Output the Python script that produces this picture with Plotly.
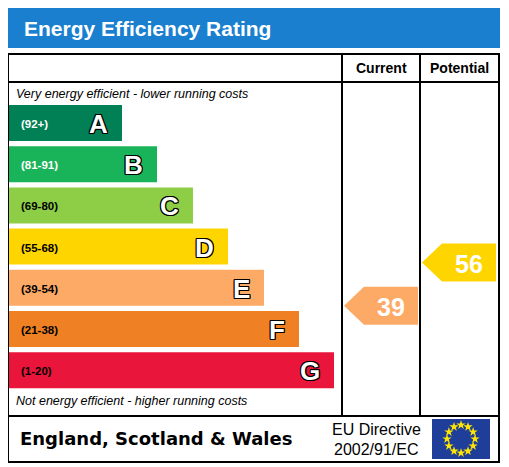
import plotly.graph_objects as go
import numpy as np

bands = ["A", "B", "C", "D", "E", "F", "G"]
ranges = ["(92+)", "(81-91)", "(69-80)", "(55-68)", "(39-54)", "(21-38)", "(1-20)"]
colors = ["#008054", "#19b459", "#8dce46", "#ffd500", "#fcaa65", "#ef8023", "#e9153b"]
bar_ends = [122, 157, 193, 228, 264, 299, 334]
range_text_colors = ["white", "white", "black", "black", "black", "black", "black"]
current_value = 39
current_band = "E"
potential_value = 56
potential_band = "D"

W, H = 509, 467
OFF = 8  # page body margin compensation
fig = go.Figure()
shapes = []
ann = []
F = "Liberation Sans, Arial, sans-serif"

shapes.append(dict(type="rect", x0=7, x1=500, y0=8, y1=48, fillcolor="#1a7fcf", line_width=0))
ann.append(dict(x=22, y=28, text="<b>Energy Efficiency Rating</b>", showarrow=False, xanchor="left",
                font=dict(family=F, size=21, color="white")))
shapes.append(dict(type="rect", x0=8, x1=499, y0=54, y1=462, line=dict(color="black", width=2)))
for y in (82, 416):
    shapes.append(dict(type="line", x0=8, x1=499, y0=y, y1=y, line=dict(color="black", width=2)))
for x in (342, 420):
    shapes.append(dict(type="line", x0=x, x1=x, y0=54, y1=416, line=dict(color="black", width=2)))
ann.append(dict(x=381, y=68, text="<b>Current</b>", showarrow=False, font=dict(family=F, size=14, color="black")))
ann.append(dict(x=459, y=68, text="<b>Potential</b>", showarrow=False, font=dict(family=F, size=14, color="black")))
ann.append(dict(x=14, y=94, text="<i>Very energy efficient - lower running costs</i>", showarrow=False, xanchor="left",
                font=dict(family=F, size=12.5, color="black")))
ann.append(dict(x=14, y=401, text="<i>Not energy efficient - higher running costs</i>", showarrow=False, xanchor="left",
                font=dict(family=F, size=12.5, color="black")))

outline = "1px 1px 0 black, -1px -1px 0 black, 1px -1px 0 black, -1px 1px 0 black, 0 1px 0 black, 0 -1px 0 black, 1px 0 0 black, -1px 0 0 black"
top0, step, bh = 105, 41.2, 36
centers = {}
for i, (b, r, c, e, tc) in enumerate(zip(bands, ranges, colors, bar_ends, range_text_colors)):
    y0 = top0 + i * step
    centers[b] = y0 + bh / 2
    shapes.append(dict(type="rect", x0=9, x1=e, y0=y0, y1=y0 + bh, fillcolor=c, line_width=0, layer="below"))
    ann.append(dict(x=19, y=y0 + bh / 2 + 1, text=f"<b>{r}</b>", showarrow=False, xanchor="left",
                    font=dict(family=F, size=11.5, color=tc)))
    ann.append(dict(x=e - 12, y=y0 + bh / 2 + 1, text=f"<b>{b}</b>", showarrow=False, xanchor="right",
                    font=dict(family=F, size=26, color="white", shadow=outline)))

def arrow(x0, x1, yc, col, val):
    h = 19
    shapes.append(dict(type="path", path=f"M {x0} {yc} L {x0+20} {yc-h} L {x1} {yc-h} L {x1} {yc+h} L {x0+20} {yc+h} Z",
                       fillcolor=col, line_width=0))
    ann.append(dict(x=(x0 + x1) / 2 + 10, y=yc + 1, text=f"<b>{val}</b>", showarrow=False,
                    font=dict(family=F, size=25, color="white")))

arrow(344, 418, centers[current_band] + 18, colors[bands.index(current_band)], current_value)
arrow(422, 496, centers[potential_band] + 16, colors[bands.index(potential_band)], potential_value)

ann.append(dict(x=18, y=438, text="<b>England, Scotland &amp; Wales</b>", showarrow=False, xanchor="left",
                font=dict(family="DejaVu Sans", size=18, color="black")))
ann.append(dict(x=376, y=429, text="EU Directive", showarrow=False, font=dict(family=F, size=16, color="black")))
ann.append(dict(x=376, y=449, text="2002/91/EC", showarrow=False, font=dict(family=F, size=16, color="black")))
shapes.append(dict(type="rect", x0=432, x1=490, y0=419, y1=459, fillcolor="#1f3e9a", line_width=0, layer="below"))
ang = np.arange(12) * np.pi / 6
fig.add_trace(go.Scatter(x=461 + 14 * np.cos(ang), y=439 + 14 * np.sin(ang), mode="markers",
                         marker=dict(symbol="star", size=7, color="#ffe600", line_width=0), hoverinfo="skip"))

fig.update_layout(width=W, height=H, margin=dict(l=0, r=0, t=0, b=0), showlegend=False,
                  plot_bgcolor="rgba(0,0,0,0)", paper_bgcolor="white", shapes=shapes, annotations=ann,
                  xaxis=dict(range=[OFF, W + OFF], visible=False, fixedrange=True),
                  yaxis=dict(range=[H + OFF, OFF], visible=False, fixedrange=True))
fig.write_html("out.html", config={"displayModeBar": False})
